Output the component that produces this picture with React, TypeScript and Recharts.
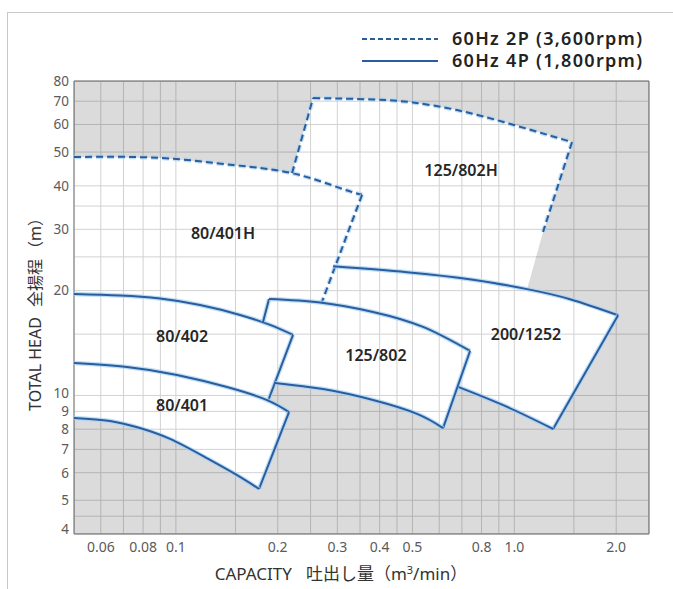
import React from 'react';
import { ComposedChart, Scatter, XAxis, YAxis, CartesianGrid, ReferenceLine, Legend, Curve } from 'recharts';

// [capacity m3/min, head m]
const frameCorners = [[0.05, 4], [2.5, 4], [2.5, 80], [0.05, 80]];

// outer edge of all pump ranges (the white area)
const coveredArea = [
  [0.05, 48.4], [0.0898, 48.1], [0.1475, 45.9], [0.2204, 43.5],
  [0.2543, 71.5], [0.3824, 70.8], [0.5021, 69.4], [0.6773, 66.0], [0.9516, 60.6], [1.481, 53.4],
  [1.216, 29.5], [1.091, 20.2], [1.461, 18.9], [2.026, 17.0],
  [1.302, 8.01], [0.9386, 9.33], [0.685, 10.57],
  [0.6157, 8.06], [0.5159, 8.85], [0.3824, 9.7], [0.2722, 10.43], [0.1963, 10.86],
  [0.1872, 9.64], [0.2159, 8.96],
  [0.1761, 5.39], [0.1495, 5.95], [0.1219, 6.65], [0.0961, 7.5], [0.0783, 8.06], [0.0639, 8.45], [0.05, 8.62],
];

// 60Hz 2P
const h401Top = [[0.05, 48.4], [0.0898, 48.1], [0.1475, 45.9], [0.2204, 43.5], [0.3056, 39.4], [0.3549, 37.7]];
const h401Edge = [[0.3549, 37.7], [0.2703, 18.6]];
const h802Left = [[0.2204, 43.5], [0.2543, 71.5]];
const h802Top = [[0.2543, 71.5], [0.3824, 70.8], [0.5021, 69.4], [0.6773, 66.0], [0.9516, 60.6], [1.481, 53.4]];
const h802Edge = [[1.481, 53.4], [1.216, 29.5]];

// 60Hz 4P
const p402Top = [[0.05, 19.56], [0.0684, 19.37], [0.0898, 18.98], [0.1179, 18.18], [0.1547, 17.03], [0.1898, 15.94], [0.2219, 14.92]];
const p402Edge = [[0.2219, 14.92], [0.1872, 9.64]];
const p401Top = [[0.05, 12.39], [0.0717, 12.07], [0.1008, 11.45], [0.1416, 10.57], [0.1859, 9.7], [0.2159, 8.96]];
const p401Edge = [[0.2159, 8.96], [0.1761, 5.39]];
const p401Bottom = [[0.05, 8.62], [0.0639, 8.45], [0.0783, 8.06], [0.0961, 7.5], [0.1219, 6.65], [0.1495, 5.95], [0.1761, 5.39]];
const p802Left = [[0.1885, 18.92], [0.1809, 16.26]];
const p802Top = [[0.1885, 18.92], [0.2667, 18.49], [0.3824, 17.37], [0.5374, 15.73], [0.74, 13.42]];
const p802Edge = [[0.74, 13.42], [0.6157, 8.06]];
const p802Bottom = [[0.1963, 10.86], [0.2722, 10.43], [0.3824, 9.7], [0.5159, 8.85], [0.6157, 8.06]];
const p1252Top = [[0.2914, 23.5], [0.4819, 22.6], [0.7553, 21.5], [1.091, 20.2], [1.461, 18.9], [2.026, 17.0]];
const p1252Edge = [[2.026, 17.0], [1.302, 8.01]];
const p1252Bottom = [[0.685, 10.57], [0.9386, 9.33], [1.302, 8.01]];

const dashedLines = [h401Top, h401Edge, h802Left, h802Top, h802Edge];
const solidLines = [p402Top, p402Edge, p401Top, p401Edge, p401Bottom, p802Left, p802Top, p802Edge, p802Bottom, p1252Top, p1252Edge, p1252Bottom];

const modelLabels = [
  { name: '80/401H', q: 0.1378, h: 29.3 },
  { name: '125/802H', q: 0.696, h: 44.4 },
  { name: '80/402', q: 0.1043, h: 14.8 },
  { name: '125/802', q: 0.39, h: 13.1 },
  { name: '200/1252', q: 1.083, h: 15.0 },
  { name: '80/401', q: 0.1043, h: 9.39 },
];

const xGrid = [0.06, 0.07, 0.08, 0.09, 0.1, 0.15, 0.2, 0.25, 0.3, 0.35, 0.4, 0.45, 0.5, 0.6, 0.7, 0.8, 0.9, 1.0, 1.5, 2.0];
const xLabels = [0.06, 0.08, 0.1, 0.2, 0.3, 0.4, 0.5, 0.8, 1.0, 2.0];
const yGrid = [4, 4.5, 5, 6, 7, 8, 9, 10, 15, 20, 25, 30, 35, 40, 50, 60, 70, 80];
const yLabels = [4, 5, 6, 7, 8, 9, 10, 20, 30, 40, 50, 60, 70, 80];

const legendItems = [
  { label: '60Hz 2P (3,600rpm)', dashed: true },
  { label: '60Hz 4P (1,800rpm)', dashed: false },
];

const BLUE = '#2a5d9e';
const HALO = '#a9d3f2';
const FONT = '"Noto Sans", "Noto Sans CJK JP", sans-serif';
const DASH = '7 4';

const toPoints = (rows: number[][]) => rows.map(([q, h]) => ({ q, h }));

const noDot = () => <g />;

const renderShade = (props: any) => {
  const pts: { x: number; y: number }[] = props.points;
  const ring = (list: { x: number; y: number }[]) => 'M' + list.map((p) => `${p.x},${p.y}`).join('L') + 'Z';
  const d = ring(pts.slice(0, frameCorners.length)) + ring(pts.slice(frameCorners.length));
  return <path d={d} fill="#000" fillOpacity={0.14} fillRule="evenodd" stroke="none" />;
};

const outline = (dashed: boolean) => (props: any) => (
  <g>
    <Curve points={props.points} type="natural" fill="none" stroke={HALO} strokeOpacity={0.75} strokeWidth={4.5}
      strokeDasharray={dashed ? DASH : undefined} />
    <Curve points={props.points} type="natural" fill="none" stroke={BLUE} strokeWidth={2}
      strokeDasharray={dashed ? DASH : undefined} />
  </g>
);

const renderModelLabel = (props: any) => (
  <text x={props.cx} y={props.cy} textAnchor="middle" dominantBaseline="central"
    fontFamily={FONT} fontSize={16} fontWeight={600} fill="#262626">
    {props.payload.name}
  </text>
);

const fmtX = (v: number) => (v >= 1 ? v.toFixed(1) : String(v));

const renderXTick = (props: any) => {
  const v = props.payload.value;
  if (!xLabels.includes(v)) return <g />;
  return (
    <text x={props.x} y={props.y + 18} textAnchor="middle" fontFamily={FONT} fontSize={14} fill="#5a5a5a">
      {fmtX(v)}
    </text>
  );
};

// small nudges where labels sit close together
const yNudge: Record<number, number> = { 4: -5, 10: -2 };

const renderYTick = (props: any) => {
  const v = props.payload.value;
  if (!yLabels.includes(v)) return <g />;
  return (
    <text x={props.x - 5} y={props.y + (yNudge[v] ?? 0)} dy="0.36em" textAnchor="end"
      fontFamily={FONT} fontSize={13.5} fill="#5a5a5a">
      {v}
    </text>
  );
};

const renderYTitle = (props: any) => {
  const vb = props.viewBox;
  const x = vb.x + 35;
  const y = vb.y + vb.height / 2 + 3;
  return (
    <text x={x} y={y} transform={`rotate(-90, ${x}, ${y})`} textAnchor="middle" dominantBaseline="central"
      fontFamily={FONT} fontSize={16} fill="#333">
      <tspan>TOTAL HEAD</tspan>
      <tspan dx={10}>全揚程</tspan>
      <tspan dx={2}>（m）</tspan>
    </text>
  );
};

const renderXTitle = (props: any) => {
  const vb = props.viewBox;
  return (
    <text x={vb.x + 267} y={vb.y + 46} textAnchor="middle" fontFamily={FONT} fontSize={17} fill="#333">
      <tspan>CAPACITY</tspan>
      <tspan dx={14}>吐出し量</tspan>
      <tspan>（m</tspan>
      <tspan fontSize={11} dy={-6}>3</tspan>
      <tspan dy={6}>/min）</tspan>
    </text>
  );
};

const renderLegend = () => (
  <svg width={310} height={50}>
    {legendItems.map((it, i) => {
      const y = 13 + i * 22;
      return (
        <g key={it.label}>
          <line x1={2} x2={78} y1={y} y2={y} stroke={BLUE} strokeWidth={2}
            strokeDasharray={it.dashed ? '5 3' : undefined} />
          <text x={92} y={y - 1} dominantBaseline="central" fontFamily={FONT} fontSize={18}
            fontWeight={600} letterSpacing={1.3} fill="#222">
            {it.label}
          </text>
        </g>
      );
    })}
  </svg>
);

export default function App() {
  return (
    <div style={{ position: 'fixed', left: 0, top: 0, width: 673, height: 589, overflow: 'hidden', background: '#fff' }}>
      <div style={{ position: 'absolute', left: 7, top: 12, right: 0, bottom: 0, borderTop: '1px solid #c8c8c8', borderLeft: '1px solid #c8c8c8' }} />
      <div style={{ position: 'absolute', left: 0, top: 0 }}>
        <ComposedChart width={673} height={589} margin={{ top: 81, right: 24, bottom: 25, left: 0 }}>
          <CartesianGrid stroke="#d2d2d2" strokeWidth={1} />
          <XAxis dataKey="q" type="number" scale="log" domain={[0.05, 2.5]} allowDataOverflow
            ticks={xGrid} interval={0} tickSize={0} tickMargin={0} tick={renderXTick}
            axisLine={{ stroke: '#9a9a9a', strokeWidth: 1.5 }} tickLine={false} height={30} label={renderXTitle} />
          <YAxis dataKey="h" type="number" scale="log" domain={[4, 80]} allowDataOverflow
            ticks={yGrid} interval={0} tickSize={0} tickMargin={0} tick={renderYTick}
            axisLine={{ stroke: '#9a9a9a', strokeWidth: 1.5 }} tickLine={false} width={74} label={renderYTitle} />
          <Scatter data={toPoints([...frameCorners, ...coveredArea])} shape={noDot} line={renderShade}
            isAnimationActive={false} legendType="none" />
          {dashedLines.map((rows, i) => (
            <Scatter key={`d${i}`} data={toPoints(rows)} shape={noDot} line={outline(true)}
              isAnimationActive={false} legendType="none" />
          ))}
          {solidLines.map((rows, i) => (
            <Scatter key={`s${i}`} data={toPoints(rows)} shape={noDot} line={outline(false)}
              isAnimationActive={false} legendType="none" />
          ))}
          <Scatter data={modelLabels} shape={renderModelLabel} isAnimationActive={false} legendType="none" />
          <ReferenceLine y={80} stroke="#9a9a9a" strokeWidth={1.5} />
          <ReferenceLine x={2.5} stroke="#9a9a9a" strokeWidth={1.5} />
          <Legend layout="vertical" align="center" verticalAlign="middle" width={310} height={50}
            wrapperStyle={{ left: 360, top: 26 }} content={renderLegend} />
        </ComposedChart>
      </div>
    </div>
  );
}
